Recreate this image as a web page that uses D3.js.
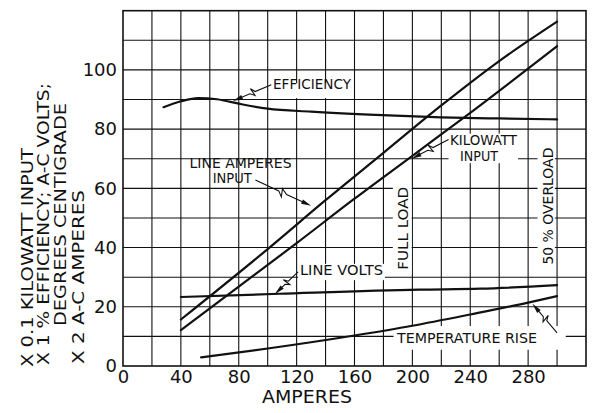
<!DOCTYPE html>
<html>
<head>
<meta charset="utf-8">
<script src="https://cdn.jsdelivr.net/npm/d3@7"></script>
<style>
  html, body { margin: 0; padding: 0; background: #fff; }
  svg { display: block; }
  text { font-family: "DejaVu Sans", "Liberation Sans", sans-serif; fill: #111; }
</style>
</head>
<body>
<svg id="chart" width="592" height="413"></svg>
<script>
// ---- data ----
const xTicks = [0, 40, 80, 120, 160, 200, 240, 280];
const yTicks = [0, 20, 40, 60, 80, 100];

const efficiencyAmps = [28, 40, 52, 65, 80, 100, 130, 170, 220, 260, 300];
const efficiencyPct  = [87.4, 89.4, 90.5, 90.1, 88.6, 86.9, 85.9, 84.9, 84.0, 83.6, 83.3];

const lineAmperesAmps = [40, 100, 140, 180, 220, 260, 300];
const lineAmperesVal  = [15.7, 39.5, 56, 72, 88, 103, 116.3];

const kilowattAmps = [40, 80, 120, 160, 200, 240, 300];
const kilowattVal  = [12.1, 26.8, 41.5, 56.5, 71, 85.5, 108];

const lineVoltsAmps = [40, 108, 205, 247, 300];
const lineVoltsVal  = [23.3, 24.4, 25.8, 26.1, 27.3];

const tempRiseAmps = [54, 100, 160, 200, 240, 280, 300];
const tempRiseVal  = [2.9, 5.9, 10.3, 13.6, 17.4, 21.4, 23.6];

const yTitleLines = ["X 0.1 KILOWATT INPUT", "X 1 % EFFICIENCY; A-C VOLTS;", "DEGREES CENTIGRADE", "X 2 A-C AMPERES"];
const xTitle = "AMPERES";

// ---- layout ----
const svg = d3.select("#chart");
const x = d3.scaleLinear().domain([0, 320]).range([123, 586]);
const y = d3.scaleLinear().domain([0, 120]).range([366, 10.7]);

// grid
const grid = svg.append("g").attr("stroke", "#111").attr("stroke-width", 1.1);
grid.selectAll("line.v").data(d3.range(20, 320, 20)).join("line")
  .attr("x1", d => x(d)).attr("x2", d => x(d))
  .attr("y1", y(120)).attr("y2", y(0));
grid.selectAll("line.h").data(d3.range(10, 120, 10)).join("line")
  .attr("x1", x(0)).attr("x2", x(320))
  .attr("y1", d => y(d)).attr("y2", d => y(d));

// white boxes behind labels (gaps in grid), in data coordinates [x0,x1,yTop,yBottom]
const boxes = [
  [43.5, 120, 63.5, 81.5],   // LINE AMPERES INPUT
  [225, 273, 78.5, 68.5],    // KILOWATT INPUT
  [121, 181, 34.5, 29],      // LINE VOLTS
  [187, 306, 13.5, 5.5],     // TEMPERATURE RISE
  [186.5, 199.5, 60.5, 31],  // FULL LOAD
  [286.5, 298.5, 74, 32.5],  // 50 % OVERLOAD
  [103, 158, 95.5, 90.5]     // EFFICIENCY
];
svg.append("g").selectAll("rect").data(boxes).join("rect")
  .attr("x", d => x(d[0])).attr("width", d => x(d[1]) - x(d[0]))
  .attr("y", d => y(d[2])).attr("height", d => y(d[3]) - y(d[2]))
  .attr("fill", "#fff");

// frame
svg.append("rect")
  .attr("x", x(0)).attr("y", y(120))
  .attr("width", x(320) - x(0)).attr("height", y(0) - y(120))
  .attr("fill", "none").attr("stroke", "#111").attr("stroke-width", 1.6);

// axes
const xAxis = d3.axisBottom(x).tickValues(xTicks).tickSize(0).tickPadding(4).tickFormat(d3.format("d"));
const gx = svg.append("g").attr("transform", `translate(0,${y(0)})`).call(xAxis);
gx.select(".domain").remove();
gx.selectAll("text").attr("font-size", 18).attr("fill", "#111")
  .attr("font-family", "DejaVu Sans, sans-serif");

const yAxis = d3.axisLeft(y).tickValues(yTicks).tickSize(0).tickPadding(6).tickFormat(d3.format("d"));
const gy = svg.append("g").attr("transform", `translate(${x(0)},0)`).call(yAxis);
gy.select(".domain").remove();
gy.selectAll("text").attr("font-size", 18).attr("fill", "#111")
  .attr("font-family", "DejaVu Sans, sans-serif");

// axis titles
svg.append("text").attr("x", 307).attr("y", 403)
  .attr("text-anchor", "middle").attr("font-size", 17)
  .attr("textLength", 90).attr("lengthAdjust", "spacingAndGlyphs").text(xTitle);

const titleCols = [ {px: 33, start: 367, len: 219}, {px: 49, start: 365, len: 282},
                    {px: 66, start: 326, len: 223}, {px: 84, start: 364, len: 174} ];
yTitleLines.forEach((t, i) => {
  const c = titleCols[i];
  svg.append("text")
    .attr("transform", `translate(${c.px},${c.start}) rotate(-90)`)
    .attr("font-size", 16.5)
    .attr("textLength", c.len).attr("lengthAdjust", "spacingAndGlyphs")
    .text(t);
});

// curves
const series = [
  {a: efficiencyAmps, v: efficiencyPct, curve: d3.curveMonotoneX},
  {a: lineAmperesAmps, v: lineAmperesVal, curve: d3.curveMonotoneX},
  {a: kilowattAmps, v: kilowattVal, curve: d3.curveMonotoneX},
  {a: lineVoltsAmps, v: lineVoltsVal, curve: d3.curveMonotoneX},
  {a: tempRiseAmps, v: tempRiseVal, curve: d3.curveMonotoneX}
];
series.forEach(s => {
  const pts = s.a.map((a, i) => [a, s.v[i]]);
  svg.append("path").datum(pts)
    .attr("d", d3.line().x(d => x(d[0])).y(d => y(d[1])).curve(s.curve))
    .attr("fill", "none").attr("stroke", "#111").attr("stroke-width", 2.2)
    .attr("stroke-linecap", "round");
});

// labels: [text, xLeft(amps), baseline(value), width px]
const labels = [
  ["EFFICIENCY", 103.7, 93.5, 78],
  ["LINE AMPERES", 46, 66.9, 102],
  ["INPUT", 62, 61.8, 39],
  ["KILOWATT", 226, 74.6, 67],
  ["INPUT", 233, 69.1, 38],
  ["LINE VOLTS", 122.3, 30.9, 83],
  ["TEMPERATURE RISE", 189.4, 7.6, 140]
];
svg.append("g").selectAll("text").data(labels).join("text")
  .attr("x", d => x(d[1])).attr("y", d => y(d[2]))
  .attr("font-size", 13.5)
  .attr("textLength", d => d[3]).attr("lengthAdjust", "spacingAndGlyphs")
  .text(d => d[0]);

// rotated labels: [text, centre x(amps), centre y(value), length px]
const vlabels = [
  ["FULL LOAD", 193.8, 46.5, 83],
  ["50 % OVERLOAD", 293.4, 54, 117]
];
vlabels.forEach(d => {
  svg.append("text")
    .attr("transform", `translate(${x(d[1]) + 5},${y(d[2])}) rotate(-90)`)
    .attr("text-anchor", "middle").attr("font-size", 14)
    .attr("textLength", d[3]).attr("lengthAdjust", "spacingAndGlyphs")
    .text(d[0]);
});

// leaders with zig-zag and arrowheads: [start amps, start val, tip amps, tip val]
const leaders = [
  [102.5, 95, 76, 89.5],
  [91.5, 62.8, 130, 54.1],
  [225, 76.5, 199.5, 70],
  [121, 31.8, 105, 24.3],
  [300, 11.2, 283, 21]
];
const lg = svg.append("g");
leaders.forEach(l => {
  const S = [x(l[0]), y(l[1])], E = [x(l[2]), y(l[3])];
  const dx = E[0] - S[0], dy = E[1] - S[1];
  const L = Math.hypot(dx, dy), ux = dx / L, uy = dy / L;
  const nx = -uy, ny = ux;
  const P = (t, o) => [S[0] + dx * t + nx * o, S[1] + dy * t + ny * o];
  const p1 = P(0.42, 0), p2 = P(0.5, 4.5), p3 = P(0.46, -3.5), p4 = P(0.56, 0);
  const tipBack = [E[0] - ux * 9, E[1] - uy * 9];
  lg.append("path")
    .attr("d", d3.line()([S, p1, p2, p3, p4, tipBack]))
    .attr("fill", "none").attr("stroke", "#111").attr("stroke-width", 1.1);
  const b1 = [E[0] - ux * 10 + nx * 2.3, E[1] - uy * 10 + ny * 2.3];
  const b2 = [E[0] - ux * 10 - nx * 2.3, E[1] - uy * 10 - ny * 2.3];
  lg.append("path").attr("d", d3.line()([E, b1, b2]) + "Z").attr("fill", "#111");
});
</script>
</body>
</html>
